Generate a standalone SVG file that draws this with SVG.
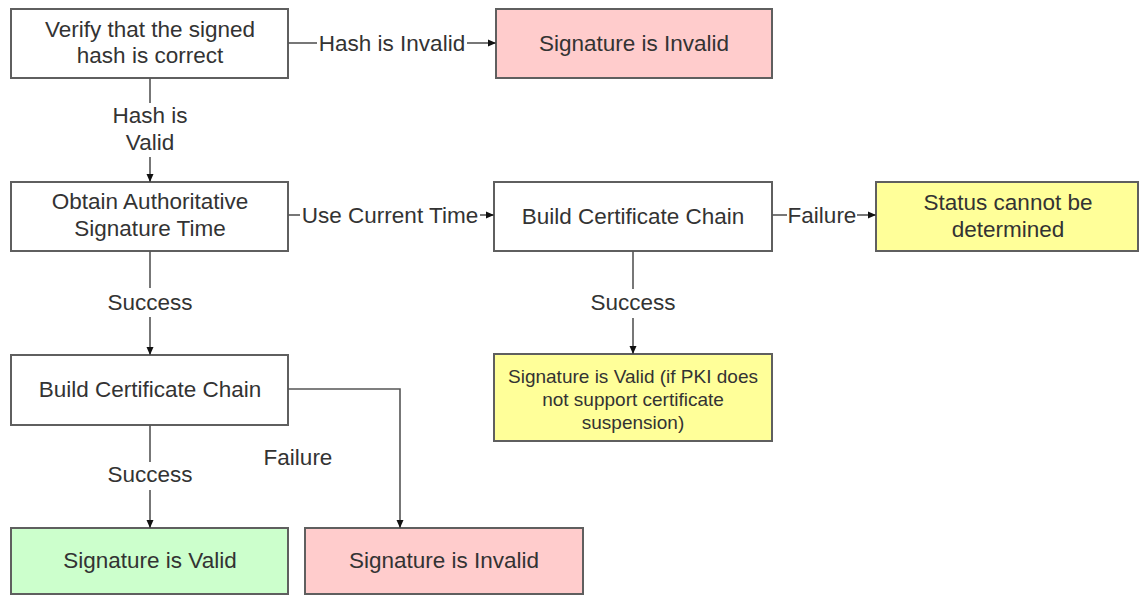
<svg xmlns="http://www.w3.org/2000/svg" width="1145" height="597" viewBox="0 0 1145 597">
<style>
  .box { stroke: #5f5f5f; stroke-width: 2; }
  .plain { fill: #ffffff; }
  .pink { fill: #ffcccc; }
  .green { fill: #ccffcc; }
  .yellow { fill: #ffff99; }
  text { font-family: "Liberation Sans", Arial, sans-serif; font-size: 22.5px; fill: #333333; text-anchor: middle; }
  .small { font-size: 19px; }
  .conn { stroke: #555555; stroke-width: 1.6; fill: none; }
</style>
<defs>
  <marker id="arrow" viewBox="0 0 8 8" refX="8" refY="4" markerWidth="8" markerHeight="8" markerUnits="userSpaceOnUse" orient="auto">
    <path d="M0,0.5 L8,4 L0,7.5 z" fill="#111111"/>
  </marker>
</defs>
<rect width="1145" height="597" fill="#ffffff"/>

<g id="verify">
  <rect class="box plain" x="11" y="9" width="277" height="69"/>
  <text x="150" y="37">Verify that the signed</text>
  <text x="150" y="63">hash is correct</text>
</g>
<g id="invalid-top">
  <rect class="box pink" x="496" y="9" width="276" height="69"/>
  <text x="634" y="51">Signature is Invalid</text>
</g>
<g id="obtain">
  <rect class="box plain" x="11" y="182" width="277" height="69"/>
  <text x="150" y="209">Obtain Authoritative</text>
  <text x="150" y="236">Signature Time</text>
</g>
<g id="build-mid">
  <rect class="box plain" x="494" y="182" width="278" height="69"/>
  <text x="633" y="224">Build Certificate Chain</text>
</g>
<g id="status">
  <rect class="box yellow" x="876" y="182" width="262" height="69"/>
  <text x="1008" y="210">Status cannot be</text>
  <text x="1008" y="237">determined</text>
</g>
<g id="valid-conditional">
  <rect class="box yellow" x="494" y="354" width="278" height="87"/>
  <text class="small" x="633" y="383">Signature is Valid (if PKI does</text>
  <text class="small" x="633" y="406">not support certificate</text>
  <text class="small" x="633" y="429">suspension)</text>
</g>
<g id="build-left">
  <rect class="box plain" x="11" y="355" width="277" height="70"/>
  <text x="150" y="397">Build Certificate Chain</text>
</g>
<g id="valid">
  <rect class="box green" x="11" y="528" width="277" height="66"/>
  <text x="150" y="568">Signature is Valid</text>
</g>
<g id="invalid-bottom">
  <rect class="box pink" x="305" y="528" width="278" height="66"/>
  <text x="444" y="568">Signature is Invalid</text>
</g>

<g id="connectors">
  <!-- verify -> invalid top -->
  <line class="conn" x1="288" y1="43" x2="317" y2="43"/>
  <text x="392" y="51">Hash is Invalid</text>
  <line class="conn" x1="467" y1="43" x2="496" y2="43" marker-end="url(#arrow)"/>
  <!-- verify -> obtain -->
  <line class="conn" x1="150" y1="78" x2="150" y2="103"/>
  <text x="150" y="123">Hash is</text>
  <text x="150" y="150">Valid</text>
  <line class="conn" x1="150" y1="157" x2="150" y2="182" marker-end="url(#arrow)"/>
  <!-- obtain -> build mid -->
  <line class="conn" x1="288" y1="215" x2="300" y2="215"/>
  <text x="390" y="223">Use Current Time</text>
  <line class="conn" x1="480" y1="215" x2="494" y2="215" marker-end="url(#arrow)"/>
  <!-- build mid -> status -->
  <line class="conn" x1="772" y1="215" x2="787" y2="215"/>
  <text x="822" y="223">Failure</text>
  <line class="conn" x1="857" y1="215" x2="876" y2="215" marker-end="url(#arrow)"/>
  <!-- build mid -> valid conditional -->
  <line class="conn" x1="633" y1="251" x2="633" y2="289"/>
  <text x="633" y="310">Success</text>
  <line class="conn" x1="633" y1="318" x2="633" y2="354" marker-end="url(#arrow)"/>
  <!-- obtain -> build left -->
  <line class="conn" x1="150" y1="251" x2="150" y2="288"/>
  <text x="150" y="310">Success</text>
  <line class="conn" x1="150" y1="317" x2="150" y2="355" marker-end="url(#arrow)"/>
  <!-- build left -> valid -->
  <line class="conn" x1="150" y1="425" x2="150" y2="462"/>
  <text x="150" y="482">Success</text>
  <line class="conn" x1="150" y1="490" x2="150" y2="528" marker-end="url(#arrow)"/>
  <!-- build left -> invalid bottom -->
  <polyline class="conn" points="288,389 400,389 400,528" marker-end="url(#arrow)"/>
  <text x="298" y="465">Failure</text>
</g>
</svg>
